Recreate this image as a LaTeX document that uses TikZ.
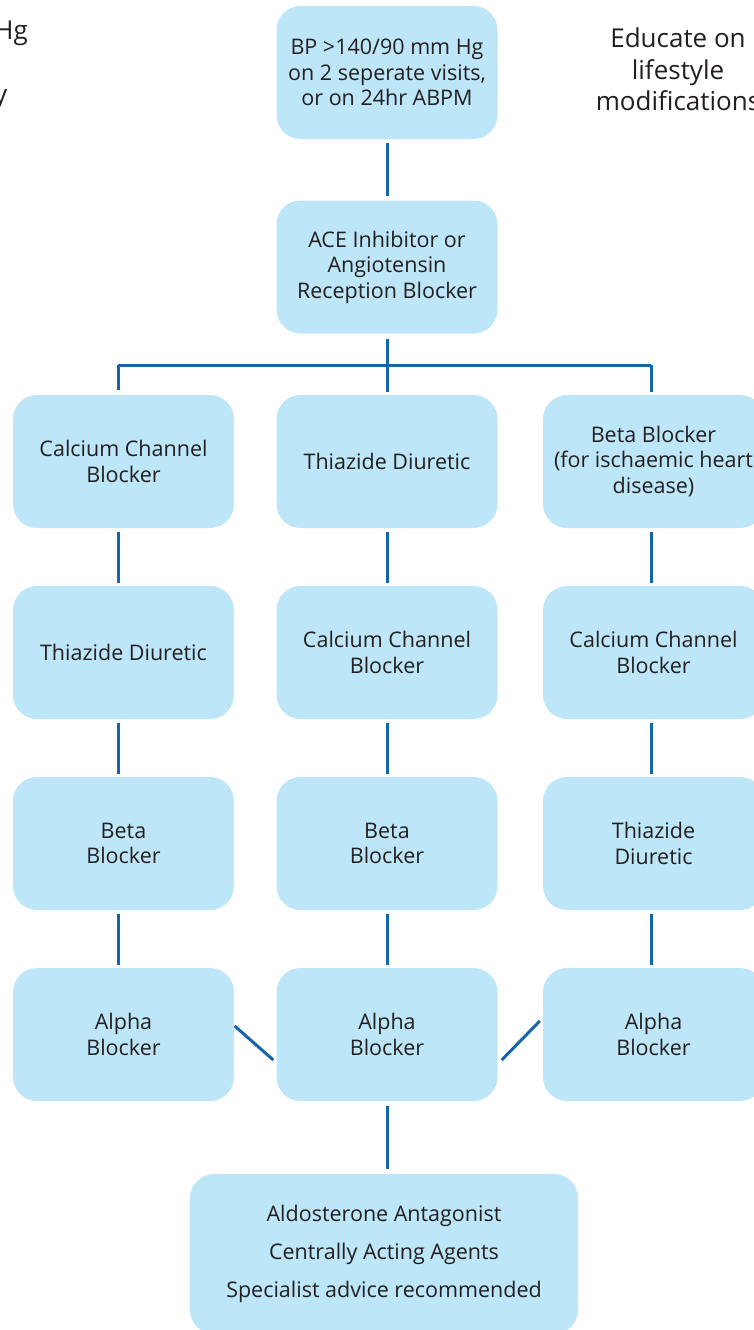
\documentclass[tikz,border=0pt]{standalone}
\usepackage{fontspec}
\setmainfont{Open Sans}
\usetikzlibrary{calc}
\definecolor{boxfill}{RGB}{189,230,248}
\definecolor{linkblue}{RGB}{22,100,172}
\definecolor{inkgrey}{RGB}{35,31,32}
\begin{document}
\begin{tikzpicture}[x=1pt,y=-1pt,
  stepbox/.style={fill=boxfill,rounded corners=24pt,minimum width=221pt,minimum height=133pt,
    align=center,text=inkgrey,font=\fontsize{21.5}{25.5}\selectfont,inner sep=0pt},
  link/.style={draw=linkblue,line width=3pt},
  note/.style={text=inkgrey,align=center,font=\fontsize{26}{31.5}\selectfont,inner sep=0pt}]
\useasboundingbox (0,0) rectangle (754,1330);
\clip (0,0) rectangle (754,1330);
% entry criterion and first-line treatment
\node[stepbox] (bp)  at (387,72.5) {BP >140/90 mm Hg\\on 2 seperate visits,\\or on 24hr ABPM};
\node[stepbox] (ace) at (387,267) {ACE Inhibitor or\\Angiotensin\\Reception Blocker};
% three columns of add-on treatments
\node[stepbox] (l1) at (123.5,461.5) {Calcium Channel\\Blocker};
\node[stepbox] (m1) at (387,461.5) {Thiazide Diuretic};
\node[stepbox] (r1) at (653.5,461.5) {Beta Blocker\\(for ischaemic heart\\disease)};
\node[stepbox] (l2) at (123.5,652.5) {Thiazide Diuretic};
\node[stepbox] (m2) at (387,652.5) {Calcium Channel\\Blocker};
\node[stepbox] (r2) at (653.5,652.5) {Calcium Channel\\Blocker};
\node[stepbox] (l3) at (123.5,843.5) {Beta\\Blocker};
\node[stepbox] (m3) at (387,843.5) {Beta\\Blocker};
\node[stepbox] (r3) at (653.5,843.5) {Thiazide\\Diuretic};
\node[stepbox] (l4) at (123.5,1034.5) {Alpha\\Blocker};
\node[stepbox] (m4) at (387,1034.5) {Alpha\\Blocker};
\node[stepbox] (r4) at (653.5,1034.5) {Alpha\\Blocker};
% final options
\node[stepbox,minimum width=388pt,minimum height=160pt,font=\fontsize{21.5}{38}\selectfont] (fin) at (384,1254)
  {Aldosterone Antagonist\\Centrally Acting Agents\\Specialist advice recommended};
% side notes
\node[note] (edu) at (678,69.5) {Educate on\\lifestyle\\modifications};
\node[note,anchor=base east] (hg) at (28,40) {Hg};
\node[note,anchor=base west] (yy) at (-6,103) {y};
% connectors
\coordinate (lt) at (118,365);
\coordinate (rt) at (651,365);
\draw[link] ($(bp.south)+(0,4)$) -- ($(ace.north)+(0,-4)$);
\draw[link] ($(ace.south)+(0,5)$) -- ($(m1.north)+(0,-3)$);
\draw[link] (lt) -- (rt);
\draw[link] (lt) -- ($(l1.north)+(-5.5,-5)$);
\draw[link] (rt) -- ($(r1.north)+(-2.5,-3)$);
\foreach \a/\b in {l1/l2,l2/l3,l3/l4}{
  \draw[link] ($(\a.south)+(-5.5,4)$) -- ($(\b.north)+(-5.5,-3)$);}
\foreach \a/\b in {m1/m2,m2/m3,m3/m4}{
  \draw[link] ($(\a.south)+(0,4)$) -- ($(\b.north)+(0,-3)$);}
\foreach \a/\b in {r1/r2,r2/r3,r3/r4}{
  \draw[link] ($(\a.south)+(-2.5,4)$) -- ($(\b.north)+(-2.5,-3)$);}
\draw[link] ($(l4.east)+(0.5,-8.5)$) -- ($(m4.west)+(-3,25.5)$);
\draw[link] ($(r4.west)+(-3,-13.5)$) -- ($(m4.east)+(4,25.5)$);
\draw[link] ($(m4.south)+(0,5)$) -- (m4.south |- {$(fin.north)+(0,-5)$});
\end{tikzpicture}
\end{document}
